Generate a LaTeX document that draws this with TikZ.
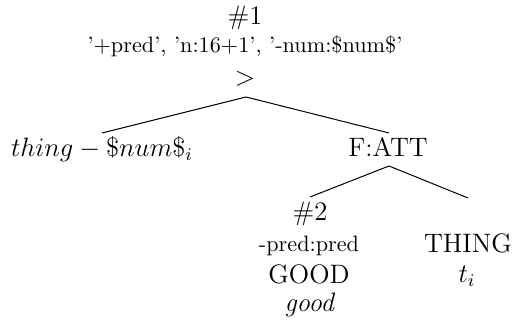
\documentclass[tikz,border=0pt]{standalone}
\begin{document}
\begin{tikzpicture}[x=0.45pt,y=-0.45pt,
  big/.style={anchor=base,inner sep=0pt,font=\fontsize{12}{14.5}\selectfont},
  sm/.style={anchor=base,inner sep=0pt,font=\fontsize{10}{12}\selectfont},
  edge/.style={line width=0.45pt}]
\useasboundingbox (0,0) rectangle (513,324);
% top node
\node[big] (h1) at (245,25) {\#1};
\node[sm] (attr1) at (245,53) {'+pred', 'n:16+1', '-num:\$num\$'};
\node[big] (gt) at (245,86) {$>$};
\coordinate (gtb) at (246,97);
% children
\node[big] (thing) at (102,157) {$thing - \$num\$_i$};
\coordinate (thingt) at (102,133);
\node[big] (fatt) at (388,157) {F:ATT};
\coordinate (fattt) at (389,133);
\coordinate (fattb) at (389,166);
% grandchildren
\node[big] (h2) at (310,221) {\#2};
\coordinate (h2t) at (310,197);
\node[sm] (attr2) at (309,252) {-pred:pred};
\node[big] (good) at (309,284) {GOOD};
\node[big] (goodw) at (310,312) {\textit{good}};
\node[big] (THING) at (468,253) {THING};
\coordinate (THINGt) at (468,198);
\node[big] (ti) at (467,283) {$t_i$};
% edges
\draw[edge] (gtb) -- (thingt);
\draw[edge] (gtb) -- (fattt);
\draw[edge] (fattb) -- (h2t);
\draw[edge] (fattb) -- (THINGt);
\end{tikzpicture}
\end{document}
